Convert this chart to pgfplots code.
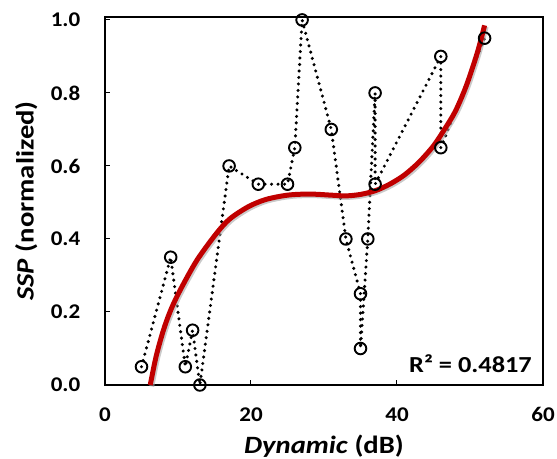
\documentclass[border=0pt]{standalone}
\usepackage{fontspec}
\setmainfont{Carlito}
\usepackage{pgfplots}
\pgfplotsset{compat=1.18}
\definecolor{trend}{RGB}{192,0,0}
\begin{document}
\begin{tikzpicture}
\begin{axis}[
 scale only axis, width=438bp, height=368bp,
 xmin=0, xmax=60, ymin=0, ymax=1.008,
 xtick={0,20,40,60}, ytick={0,0.2,0.4,0.6,0.8,1.0},
 tick align=inside, xtick pos=left, ytick pos=left,
 major tick length=5bp,
 axis line style={line width=1.2bp},
 every tick/.style={line width=1bp, black},
 /pgf/number format/assume math mode=true,
 ticklabel style={font=\fontsize{21}{21}\selectfont\bfseries, xscale=1.1},
 yticklabel style={/pgf/number format/fixed, /pgf/number format/fixed zerofill, /pgf/number format/precision=1, xshift=-19bp},
 xticklabel style={yshift=-19bp},
 xlabel={\textit{Dynamic} (dB)},
 ylabel={\textit{SSP} (normalized)},
 label style={font=\fontsize{25}{25}\selectfont\bfseries},
 xlabel style={at={(axis description cs:0.5,0)}, anchor=center, yshift=-61bp, xscale=1.15},
 ylabel style={at={(axis description cs:-0.18,0.5)}, anchor=center, rotate=0, xscale=1.15},
 clip=false,
]
\addplot[black, line width=3.4bp, dash pattern=on 0bp off 6.5bp, line cap=round,
  mark=o, mark size=5.8bp, mark options={solid, line width=1.9bp}] coordinates {
 (5,0.05) (9,0.35) (11,0.05) (12,0.15) (13,0) (17,0.60) (21,0.55) (25,0.55) (26,0.65) (27,1.0)
 (31,0.70) (33,0.40) (35,0.25) (35,0.10) (36,0.40) (37,0.80) (37,0.55) (46,0.90) (46,0.65) (52,0.95)
};
\addplot[black!35, opacity=0.6, line width=5bp, smooth, xshift=1.5bp, yshift=-1.5bp] coordinates {
 (6.2,0) (7,0.078) (8,0.15) (9,0.205) (10.3,0.26) (12.6,0.342) (15.3,0.416) (17.1,0.455) (19.6,0.488)
 (22,0.508) (25,0.52) (28,0.523) (31,0.52) (33,0.518) (35,0.522) (37,0.532) (39,0.55) (41,0.575)
 (43,0.61) (45,0.655) (46.5,0.7) (48,0.75) (49.5,0.82) (51,0.91) (52,0.985)
};
\addplot[trend, line width=5bp, smooth] coordinates {
 (6.2,0) (7,0.078) (8,0.15) (9,0.205) (10.3,0.26) (12.6,0.342) (15.3,0.416) (17.1,0.455) (19.6,0.488)
 (22,0.508) (25,0.52) (28,0.523) (31,0.52) (33,0.518) (35,0.522) (37,0.532) (39,0.55) (41,0.575)
 (43,0.61) (45,0.655) (46.5,0.7) (48,0.75) (49.5,0.82) (51,0.91) (52,0.985)
};
\node[anchor=south east, inner sep=0pt, xscale=1.15, font=\fontsize{23}{23}\selectfont\bfseries] at (rel axis cs:0.975,0.033) {R² = 0.4817};
\end{axis}
\pgfresetboundingbox
\path (-105bp,-74bp) rectangle (452bp,385bp);
\end{tikzpicture}
\end{document}
